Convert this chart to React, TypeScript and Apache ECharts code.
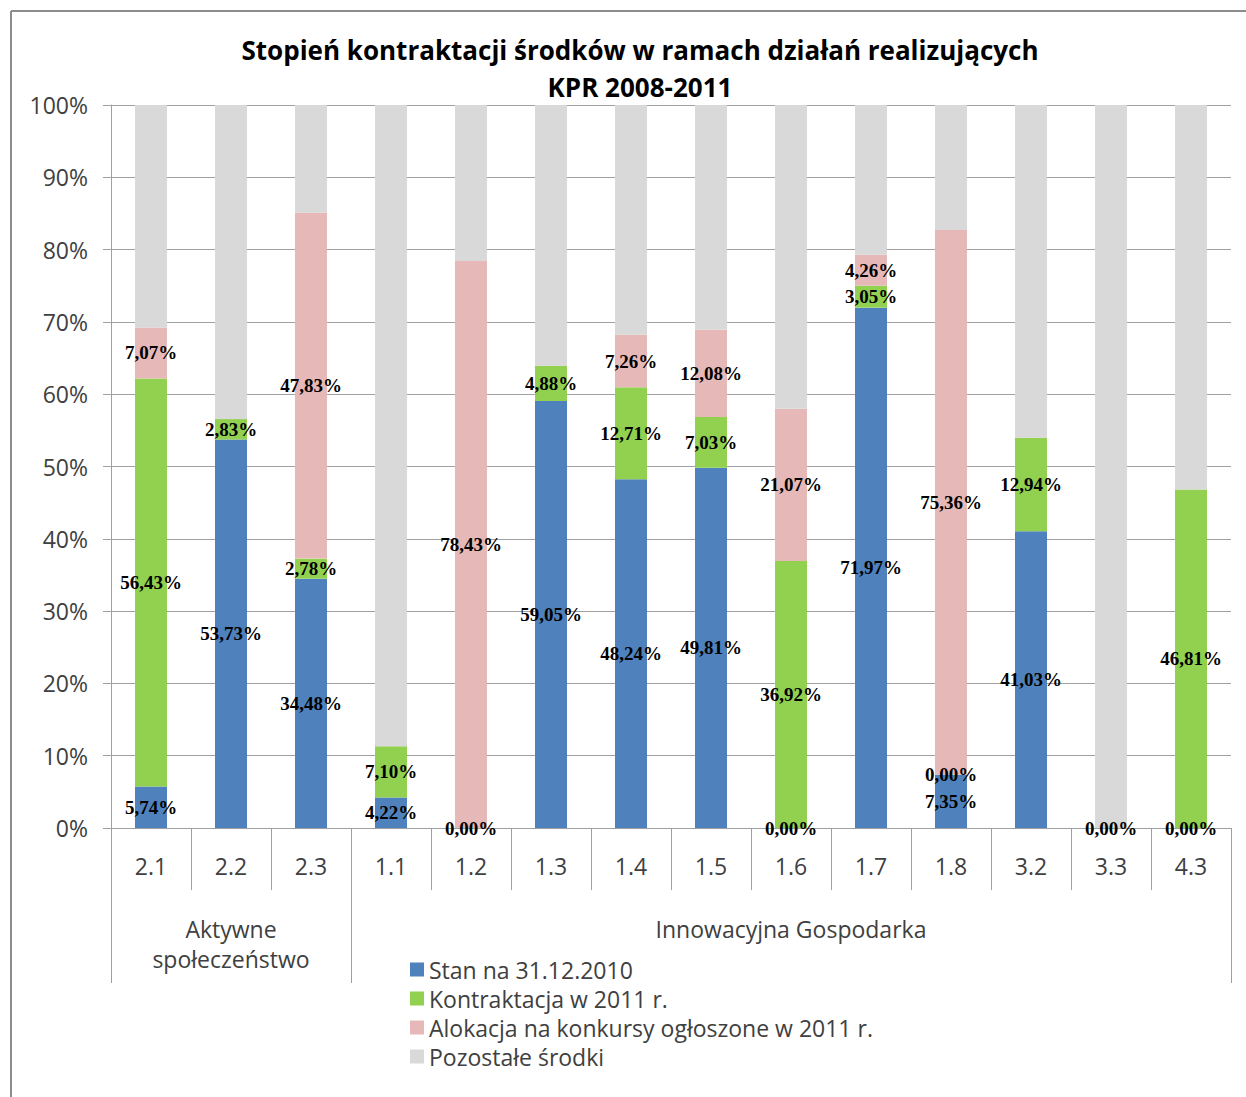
import React, { useEffect, useRef } from "react";
import * as echarts from "echarts";

const categories = ["2.1", "2.2", "2.3", "1.1", "1.2", "1.3", "1.4", "1.5", "1.6", "1.7", "1.8", "3.2", "3.3", "4.3"];
const groupLabels = ["", "Aktywne\nspołeczeństwo", "", "", "", "", "", "", "Innowacyjna Gospodarka", "", "", "", "", ""];
const groupStartIndices = [0, 3];

const stan = [5.74, 53.73, 34.48, 4.22, 0, 59.05, 48.24, 49.81, 0, 71.97, 7.35, 41.03, 0, 0];
const kontraktacja = [56.43, 2.83, 2.78, 7.1, null, 4.88, 12.71, 7.03, 36.92, 3.05, 0, 12.94, null, 46.81];
const alokacja = [7.07, null, 47.83, null, 78.43, null, 7.26, 12.08, 21.07, 4.26, 75.36, null, null, null];
const pozostale = [30.76, 43.44, 14.91, 88.68, 21.57, 36.07, 31.79, 31.08, 42.01, 20.72, 17.29, 46.03, 100, 53.19];

const yTicks = { min: 0, max: 100, interval: 10 };

const seriesNames = ["Stan na 31.12.2010", "Kontraktacja w 2011 r.", "Alokacja na konkursy ogłoszone w 2011 r.", "Pozostałe środki"];
const colors = ["#4f81bd", "#92d050", "#e6b9b8", "#d9d9d9"];

const titleText = "Stopień kontraktacji środków w ramach działań realizujących\nKPR 2008-2011";
const captionText = "Wykres 1. Stopień kontraktacji środków w ramach działań wpisujących się w priorytety KPR 2008-2011";

const SANS = "'Open Sans', 'Noto Sans', sans-serif";
const SERIF = "'Liberation Serif', 'DejaVu Serif', serif";

export default function App() {
  const ref = useRef<HTMLDivElement>(null);
  useEffect(() => {
    if (!ref.current) return;
    const chart = echarts.init(ref.current, null, { renderer: "svg" });
    const fmt = (p: any) => {
      const v = p.value;
      if (v === null || v === undefined || v === "-") return "";
      return Number(v).toFixed(2).replace(".", ",") + "%";
    };
    const labelStyle = {
      show: true,
      position: "inside",
      formatter: fmt,
      color: "#000",
      fontFamily: SERIF,
      fontWeight: "bold",
      fontSize: 19,
    };
    const mk = (name: string, data: any[], color: string, withLabel: boolean) => ({
      name,
      type: "bar",
      stack: "total",
      data,
      barWidth: "40%",
      itemStyle: { color },
      label: withLabel ? labelStyle : { show: false },
      emphasis: { disabled: true },
    });
    chart.setOption({
      animation: false,
      title: {
        text: titleText,
        left: 635,
        textAlign: "center",
        top: 26,
        textStyle: { fontFamily: SANS, fontWeight: "bold", fontSize: 26, color: "#000", lineHeight: 37 },
      },
      graphic: [
        {
          type: "text",
          left: 0,
          top: -24,
          style: { text: captionText, fontFamily: SERIF, fontWeight: "bold", fontSize: 22, fill: "#000" },
        },
        { type: "line", shape: { x1: 11, y1: 11, x2: 1246, y2: 11 }, style: { stroke: "#8c8c8c", lineWidth: 2 } },
        { type: "line", shape: { x1: 11, y1: 11, x2: 11, y2: 1097 }, style: { stroke: "#8c8c8c", lineWidth: 2 } },
      ],
      legend: {
        orient: "vertical",
        left: 405,
        top: 953,
        itemWidth: 14,
        itemHeight: 14,
        itemGap: 6,
        icon: "rect",
        data: seriesNames,
        textStyle: { fontFamily: SANS, fontSize: 23, color: "#404040" },
      },
      grid: { left: 111, right: 15, top: 105, bottom: 269, containLabel: false },
      xAxis: [
        {
          type: "category",
          data: categories,
          position: "bottom",
          axisLine: { show: true, lineStyle: { color: "#a0a0a0", width: 1 } },
          axisTick: { show: true, interval: 0, length: 62, lineStyle: { color: "#a0a0a0" } },
          axisLabel: { interval: 0, margin: 26, fontFamily: SANS, fontSize: 23, color: "#404040" },
        },
        {
          type: "category",
          data: groupLabels,
          position: "bottom",
          axisLine: { show: false },
          axisTick: {
            show: true,
            interval: (index: number) => groupStartIndices.indexOf(index) >= 0,
            length: 155,
            lineStyle: { color: "#a0a0a0" },
          },
          axisLabel: { interval: 0, margin: 86, fontFamily: SANS, fontSize: 23, color: "#404040", lineHeight: 30 },
        },
      ],
      yAxis: {
        type: "value",
        min: yTicks.min,
        max: yTicks.max,
        interval: yTicks.interval,
        axisLine: { show: true, lineStyle: { color: "#a0a0a0" } },
        axisTick: { show: true, length: 8, lineStyle: { color: "#a0a0a0" } },
        axisLabel: { formatter: "{value}%", margin: 23, fontFamily: SANS, fontSize: 23, color: "#404040" },
        splitLine: { show: true, lineStyle: { color: "#a0a0a0", width: 1 } },
      },
      series: [
        mk(seriesNames[0], stan, colors[0], true),
        mk(seriesNames[1], kontraktacja, colors[1], true),
        mk(seriesNames[2], alokacja, colors[2], true),
        mk(seriesNames[3], pozostale, colors[3], false),
      ],
    });
    return () => chart.dispose();
  }, []);
  return <div ref={ref} style={{ position: "absolute", left: 0, top: 0, width: 1246, height: 1097, background: "#fff" }} />;
}
